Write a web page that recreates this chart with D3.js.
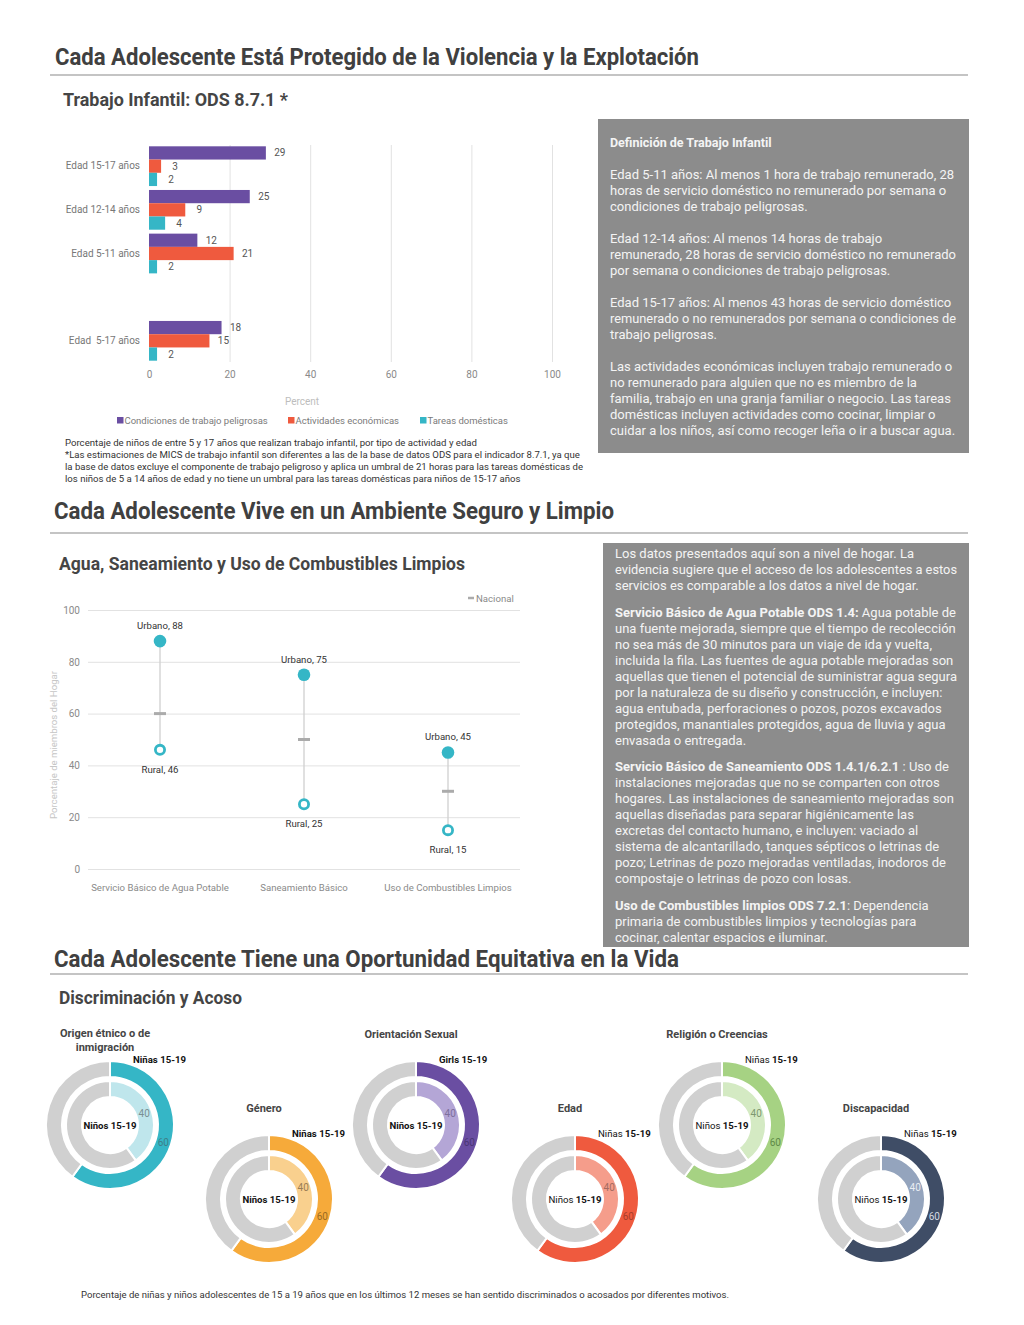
<!DOCTYPE html>
<html>
<head>
<meta charset="utf-8">
<script src="https://cdn.jsdelivr.net/npm/d3@7"></script>
<style>
  body { margin: 0; background: #fff; }
  svg text { font-family: Roboto, "Liberation Sans", sans-serif; }
</style>
</head>
<body>
<script>
// ---------------- DATA ----------------
// Trabajo infantil (bar chart)
const ageGroups = ["Edad 15-17 años", "Edad 12-14 años", "Edad 5-11 años", "Edad  5-17 años"];
const seriesNames = ["Condiciones de trabajo peligrosas", "Actividades económicas", "Tareas domésticas"];
const peligrosas = [29, 25, 12, 18];
const economicas = [3, 9, 21, 15];
const domesticas = [2, 4, 2, 2];
const barTicks = [0, 20, 40, 60, 80, 100];

// Agua, saneamiento y combustibles (dot plot)
const wasCategories = ["Servicio Básico de Agua Potable", "Saneamiento Básico", "Uso de Combustibles Limpios"];
const urbano = [88, 75, 45];
const rural = [46, 25, 15];
const nacional = [60, 50, 30];
const wasTicks = [0, 20, 40, 60, 80, 100];

// Discriminación y acoso (donuts)
const donutTitles = [["Origen étnico o de", "inmigración"], ["Género"], ["Orientación Sexual"], ["Edad"], ["Religión o Creencias"], ["Discapacidad"]];
const ninasValues = [60, 60, 60, 60, 60, 60];
const ninosValues = [40, 40, 40, 40, 40, 40];
const outerLabels = ["Niñas", "Niñas", "Girls", "Niñas", "Niñas", "Niñas"];
const innerLabels = ["Niños", "Niños", "Niños", "Niños", "Niños", "Niños"];
const ageLabel = "15-19";

// ---------------- STYLE ----------------
const C = {
  purple: "#6a4ea2", red: "#ef5a3e", teal: "#35b6c6",
  grid: "#e2e2e2", axisText: "#8a8a8a", heading: "#404040", box: "#8c8c8c"
};
const seriesColors = [C.purple, C.red, C.teal];
const donutColors = ["#35b6c6", "#f6aa3a", "#6a4ea2", "#ef5a3e", "#a6d283", "#3f4d66"];
const donutLight = ["#bfe6ec", "#f9d08e", "#b4a6d6", "#f59d8b", "#d4eac3", "#94a4bd"];
const donutGray = "#d0d0d0";

const W = 1024, H = 1325;
const svg = d3.select("body").append("svg").attr("width", W).attr("height", H);

function fit(sel, maxW) {
  sel.each(function () {
    const l = this.getComputedTextLength();
    if (l > maxW) d3.select(this).attr("textLength", maxW).attr("lengthAdjust", "spacingAndGlyphs");
  });
}
function exact(sel, w) {
  sel.attr("textLength", w).attr("lengthAdjust", "spacingAndGlyphs");
}

// ---------------- HEADINGS ----------------
function heading(txt, x, y, w, ruleY) {
  svg.append("text").attr("x", x).attr("y", y).text(txt)
    .attr("font-size", 23).attr("font-weight", 700).attr("fill", C.heading)
    .call(exact, w);
  svg.append("line").attr("x1", 50).attr("x2", 968).attr("y1", ruleY).attr("y2", ruleY)
    .attr("stroke", "#8a8a8a").attr("stroke-width", 1.2);
}
function subheading(txt, x, y, w) {
  svg.append("text").attr("x", x).attr("y", y).text(txt)
    .attr("font-size", 18).attr("font-weight", 700).attr("fill", "#454545")
    .call(exact, w);
}
heading("Cada Adolescente Está Protegido de la Violencia y la Explotación", 55, 65, 644, 75);
subheading("Trabajo Infantil: ODS 8.7.1 *", 63, 106, 225);
heading("Cada Adolescente Vive en un Ambiente Seguro y Limpio", 54, 519, 560, 533);
subheading("Agua, Saneamiento y Uso de Combustibles Limpios", 59, 570, 406);
heading("Cada Adolescente Tiene una Oportunidad Equitativa en la Vida", 54, 967, 625, 974);
subheading("Discriminación y Acoso", 59, 1004, 183);

// ---------------- BAR CHART ----------------
(function () {
  const top = 145, bottom = 362;
  const bandDomain = [ageGroups[0], ageGroups[1], ageGroups[2], "", ageGroups[3]];
  const y0 = d3.scaleBand().domain(bandDomain).range([top, bottom]).paddingInner(0.09).paddingOuter(0.03);
  const y1 = d3.scaleBand().domain(seriesNames).range([0, y0.bandwidth()]);
  const x = d3.scaleLinear().domain([0, 100]).range([149, 552]);

  const grid = svg.append("g").attr("transform", `translate(0,${bottom})`)
    .call(d3.axisBottom(x).tickValues(barTicks.filter(d => d > 0)).tickSize(-(bottom - top)).tickFormat(""));
  grid.select(".domain").remove();
  grid.selectAll("line").attr("stroke", C.grid);

  const xa = svg.append("g").attr("transform", `translate(0,${bottom + 3})`)
    .call(d3.axisBottom(x).tickValues(barTicks).tickSize(0).tickPadding(6));
  xa.select(".domain").remove();
  xa.selectAll("text").attr("font-size", 10).attr("fill", C.axisText).style("font-family", "Roboto");

  svg.append("text").attr("x", 302).attr("y", 405).attr("text-anchor", "middle")
    .attr("font-size", 10).attr("fill", "#bdbdbd").text("Percent");

  const ya = svg.append("g").attr("transform", `translate(149,0)`)
    .call(d3.axisLeft(y0).tickSize(0).tickPadding(9));
  ya.select(".domain").remove();
  ya.selectAll(".tick").filter(d => d === "").remove();
  ya.selectAll("text").attr("font-size", 10).attr("fill", "#777").style("white-space", "pre").style("font-family", "Roboto");

  const rows = ageGroups.map((g, i) => ({ group: g, values: [peligrosas[i], economicas[i], domesticas[i]] }));
  const gg = svg.append("g").selectAll("g").data(rows).join("g")
    .attr("transform", d => `translate(0,${y0(d.group)})`);
  gg.selectAll("rect").data(d => d.values.map((v, k) => ({ v, s: seriesNames[k], k })))
    .join("rect")
    .attr("x", x(0)).attr("y", d => y1(d.s)).attr("height", y1.bandwidth())
    .attr("width", d => x(d.v) - x(0)).attr("fill", d => seriesColors[d.k]);
  gg.selectAll("text").data(d => d.values.map((v, k) => ({ v, s: seriesNames[k], k })))
    .join("text")
    .attr("x", d => x(d.v) + 14).attr("y", d => y1(d.s) + y1.bandwidth() / 2)
    .attr("dy", "0.35em").attr("text-anchor", "middle")
    .attr("font-size", 10).attr("fill", "#555").text(d => d.v);

  const legX = [117, 288, 420];
  const leg = svg.append("g").selectAll("g").data(seriesNames).join("g")
    .attr("transform", (d, i) => `translate(${legX[i]},417)`);
  leg.append("rect").attr("width", 6.5).attr("height", 6.5).attr("fill", (d, i) => seriesColors[i]);
  leg.append("text").attr("x", 7.5).attr("y", 7).attr("font-size", 9.5).attr("fill", "#7a7a7a").text(d => d);

  const notes = [
    "Porcentaje de niños de entre 5 y 17 años que realizan trabajo infantil, por tipo de actividad y edad",
    "*Las estimaciones de MICS de trabajo infantil son diferentes a las de la base de datos ODS para el indicador 8.7.1, ya que",
    "la base de datos excluye el componente de trabajo peligroso y aplica un umbral de 21 horas para las tareas domésticas de",
    "los niños de 5 a 14 años de edad y no tiene un umbral para las tareas domésticas para niños de 15-17 años"
  ];
  const noteW = [414, 518, 518, 460];
  svg.append("g").selectAll("text").data(notes).join("text")
    .attr("x", 65).attr("y", (d, i) => 446 + i * 12).attr("font-size", 9.6).attr("fill", "#333")
    .text(d => d).each(function (d, i) { d3.select(this).call(fit, noteW[i]); });
})();

// ---------------- TEXT BOXES ----------------
function textBox(x, y, w, h, tx, lines, maxW) {
  svg.append("rect").attr("x", x).attr("y", y).attr("width", w).attr("height", h).attr("fill", C.box);
  const g = svg.append("g");
  lines.forEach(L => {
    const t = g.append("text").attr("x", tx).attr("y", L.y).attr("font-size", L.size || 13).attr("fill", "#f4f4f4");
    L.segs.forEach(s => {
      t.append("tspan").attr("font-weight", s[1] ? 700 : 400).text(s[0]);
    });
    t.call(fit, maxW);
  });
}
function plain(arr, y0, step) { return arr.map((s, i) => ({ y: y0 + i * step, segs: [[s, false]] })); }

textBox(598, 119, 371, 334, 610, [
  { y: 147, size: 12.5, segs: [["Definición de Trabajo Infantil", true]] },
  ...plain(["Edad 5-11 años: Al menos 1 hora de trabajo remunerado, 28",
    "horas de servicio doméstico no remunerado por semana o",
    "condiciones de trabajo peligrosas."], 179, 16),
  ...plain(["Edad 12-14 años: Al menos 14 horas de trabajo",
    "remunerado, 28 horas de servicio doméstico no remunerado",
    "por semana o condiciones de trabajo peligrosas."], 243, 16),
  ...plain(["Edad 15-17 años: Al menos 43 horas de servicio doméstico",
    "remunerado o no remunerados por semana o condiciones de",
    "trabajo peligrosas."], 307, 16),
  ...plain(["Las actividades económicas incluyen trabajo remunerado o",
    "no remunerado para alguien que no es miembro de la",
    "familia, trabajo en una granja familiar o negocio. Las tareas",
    "domésticas incluyen actividades como cocinar, limpiar o",
    "cuidar a los niños, así como recoger leña o ir a buscar agua."], 371, 16)
], 346);

textBox(603, 543, 366, 404, 615, [
  ...plain(["Los datos presentados aquí son a nivel de hogar. La",
    "evidencia sugiere que el acceso de los adolescentes a estos",
    "servicios es comparable a los datos a nivel de hogar."], 558, 16),
  { y: 617, segs: [["Servicio Básico de Agua Potable ODS 1.4:", true], [" Agua potable de", false]] },
  ...plain(["una fuente mejorada, siempre que el tiempo de recolección",
    "no sea más de 30 minutos para un viaje de ida y vuelta,",
    "incluida la fila. Las fuentes de agua potable mejoradas son",
    "aquellas que tienen el potencial de suministrar agua segura",
    "por la naturaleza de su diseño y construcción, e incluyen:",
    "agua entubada, perforaciones o pozos, pozos excavados",
    "protegidos, manantiales protegidos, agua de lluvia y agua",
    "envasada o entregada."], 633, 16),
  { y: 771, segs: [["Servicio Básico de Saneamiento ODS 1.4.1/6.2.1", true], [" : Uso de", false]] },
  ...plain(["instalaciones mejoradas que no se comparten con otros",
    "hogares. Las instalaciones de saneamiento mejoradas son",
    "aquellas diseñadas para separar higiénicamente las",
    "excretas del contacto humano, e incluyen: vaciado al",
    "sistema de alcantarillado, tanques sépticos o letrinas de",
    "pozo; Letrinas de pozo mejoradas ventiladas, inodoros de",
    "compostaje o letrinas de pozo con losas."], 787, 16),
  { y: 910, segs: [["Uso de Combustibles limpios ODS 7.2.1", true], [": Dependencia", false]] },
  ...plain(["primaria de combustibles limpios y tecnologías para",
    "cocinar, calentar espacios e iluminar."], 926, 16)
], 342);

// ---------------- DOT PLOT ----------------
(function () {
  const left = 88, right = 520;
  const y = d3.scaleLinear().domain([0, 100]).range([869, 610]);
  const x = d3.scaleBand().domain(wasCategories).range([left, right]);

  const ya = svg.append("g").attr("transform", `translate(${left},0)`)
    .call(d3.axisLeft(y).tickValues(wasTicks).tickSize(-(right - left)).tickPadding(8));
  ya.select(".domain").remove();
  ya.selectAll("line").attr("stroke", C.grid);
  ya.selectAll("text").attr("font-size", 10).attr("fill", C.axisText).style("font-family", "Roboto");

  const xa = svg.append("g").attr("transform", `translate(0,869)`)
    .call(d3.axisBottom(x).tickSize(0).tickPadding(15));
  xa.select(".domain").remove();
  xa.selectAll("text").attr("font-size", 9.6).attr("fill", C.axisText).style("font-family", "Roboto");

  svg.append("text").attr("transform", "translate(57,745) rotate(-90)").attr("text-anchor", "middle")
    .attr("font-size", 9.6).attr("fill", "#c6c6c6").text("Porcentaje de miembros del Hogar");

  const rows = wasCategories.map((c, i) => ({ c, u: urbano[i], r: rural[i], n: nacional[i] }));
  const g = svg.append("g").selectAll("g").data(rows).join("g")
    .attr("transform", d => `translate(${x(d.c) + x.bandwidth() / 2},0)`);
  g.append("line").attr("y1", d => y(d.u)).attr("y2", d => y(d.r)).attr("stroke", "#cfcfcf").attr("stroke-width", 1.3);
  g.append("line").attr("x1", -6).attr("x2", 6).attr("y1", d => y(d.n)).attr("y2", d => y(d.n))
    .attr("stroke", "#ababab").attr("stroke-width", 3);
  g.append("circle").attr("cy", d => y(d.u)).attr("r", 6.3).attr("fill", C.teal);
  g.append("circle").attr("cy", d => y(d.r)).attr("r", 4.6).attr("fill", "#fff").attr("stroke", C.teal).attr("stroke-width", 2.8);
  g.append("text").attr("y", d => y(d.u) - 12).attr("text-anchor", "middle").attr("font-size", 9.6).attr("fill", "#333")
    .text(d => `Urbano, ${d.u}`);
  g.append("text").attr("y", d => y(d.r) + 23).attr("text-anchor", "middle").attr("font-size", 9.6).attr("fill", "#333")
    .text(d => `Rural, ${d.r}`);

  svg.append("line").attr("x1", 468).attr("x2", 474).attr("y1", 598).attr("y2", 598).attr("stroke", "#ababab").attr("stroke-width", 2.5);
  svg.append("text").attr("x", 476).attr("y", 601.5).attr("font-size", 9.6).attr("fill", "#8a8a8a").text("Nacional");
})();

// ---------------- DONUTS ----------------
(function () {
  const outerArc = d3.arc().innerRadius(48).outerRadius(64);
  const innerArc = d3.arc().innerRadius(28).outerRadius(44);
  const pie = d3.pie().sort(null).value(d => d.v);
  const tagColor40 = ["#7a8f93", "#9a7d55", "#7d6f9c", "#a36b60", "#7d9870", "#e9edf3"];
  const tagColor60 = ["#3e7f88", "#9b6a22", "#4a3675", "#a83d2a", "#5f8a48", "#d3d9e2"];

  donutTitles.forEach((title, i) => {
    const k = Math.floor(i / 2);
    const cx = (i % 2 === 0 ? 110 : 269) + k * 306;
    const cy = i % 2 === 0 ? 1125 : 1199;
    const g = svg.append("g").attr("transform", `translate(${cx},${cy})`);

    const outer = pie([{ v: ninasValues[i], c: donutColors[i] }, { v: 100 - ninasValues[i], c: donutGray }]);
    const inner = pie([{ v: ninosValues[i], c: donutLight[i] }, { v: 100 - ninosValues[i], c: donutGray }]);
    g.selectAll("path.o").data(outer).join("path").attr("class", "o")
      .attr("d", outerArc).attr("fill", d => d.data.c).attr("stroke", "#fff").attr("stroke-width", 2);
    g.selectAll("path.i").data(inner).join("path").attr("class", "i")
      .attr("d", innerArc).attr("fill", d => d.data.c).attr("stroke", "#fff").attr("stroke-width", 2);

    const c60 = outerArc.centroid(outer[0]);
    const c40 = innerArc.centroid(inner[0]);
    g.append("text").attr("x", c40[0]).attr("y", c40[1]).attr("dy", "0.35em").attr("text-anchor", "middle")
      .attr("font-size", 10).attr("fill", tagColor40[i]).text(ninosValues[i]);
    g.append("text").attr("x", c60[0]).attr("y", c60[1]).attr("dy", "0.35em").attr("text-anchor", "middle")
      .attr("font-size", 10).attr("fill", tagColor60[i]).text(ninasValues[i]);

    const boldName = i < 3;
    const ct = g.append("text").attr("x", 0).attr("y", 3.5).attr("text-anchor", "middle").attr("font-size", 9.6).attr("fill", "#111");
    ct.append("tspan").attr("font-weight", boldName ? 700 : 400).text(innerLabels[i] + " ");
    ct.append("tspan").attr("font-weight", 700).text(ageLabel);

    const ot = g.append("text").attr("x", 23).attr("y", -62).attr("font-size", 9.6).attr("fill", "#111");
    ot.append("tspan").attr("font-weight", boldName ? 700 : 400).text(outerLabels[i] + " ");
    ot.append("tspan").attr("font-weight", 700).text(ageLabel);

    title.forEach((t, j) => {
      g.append("text").attr("x", -5).attr("y", (title.length === 1 ? -87 : -88) + j * 13.5)
        .attr("text-anchor", "middle").attr("font-size", 11).attr("font-weight", 700).attr("fill", "#454545").text(t);
    });
  });

  svg.append("text").attr("x", 81).attr("y", 1298).attr("font-size", 9).attr("fill", "#333")
    .text("Porcentaje de niñas y niños adolescentes de 15 a 19 años que en los últimos 12 meses se han sentido discriminados o acosados por diferentes motivos.")
    .call(exact, 648);
})();
</script>
</body>
</html>
